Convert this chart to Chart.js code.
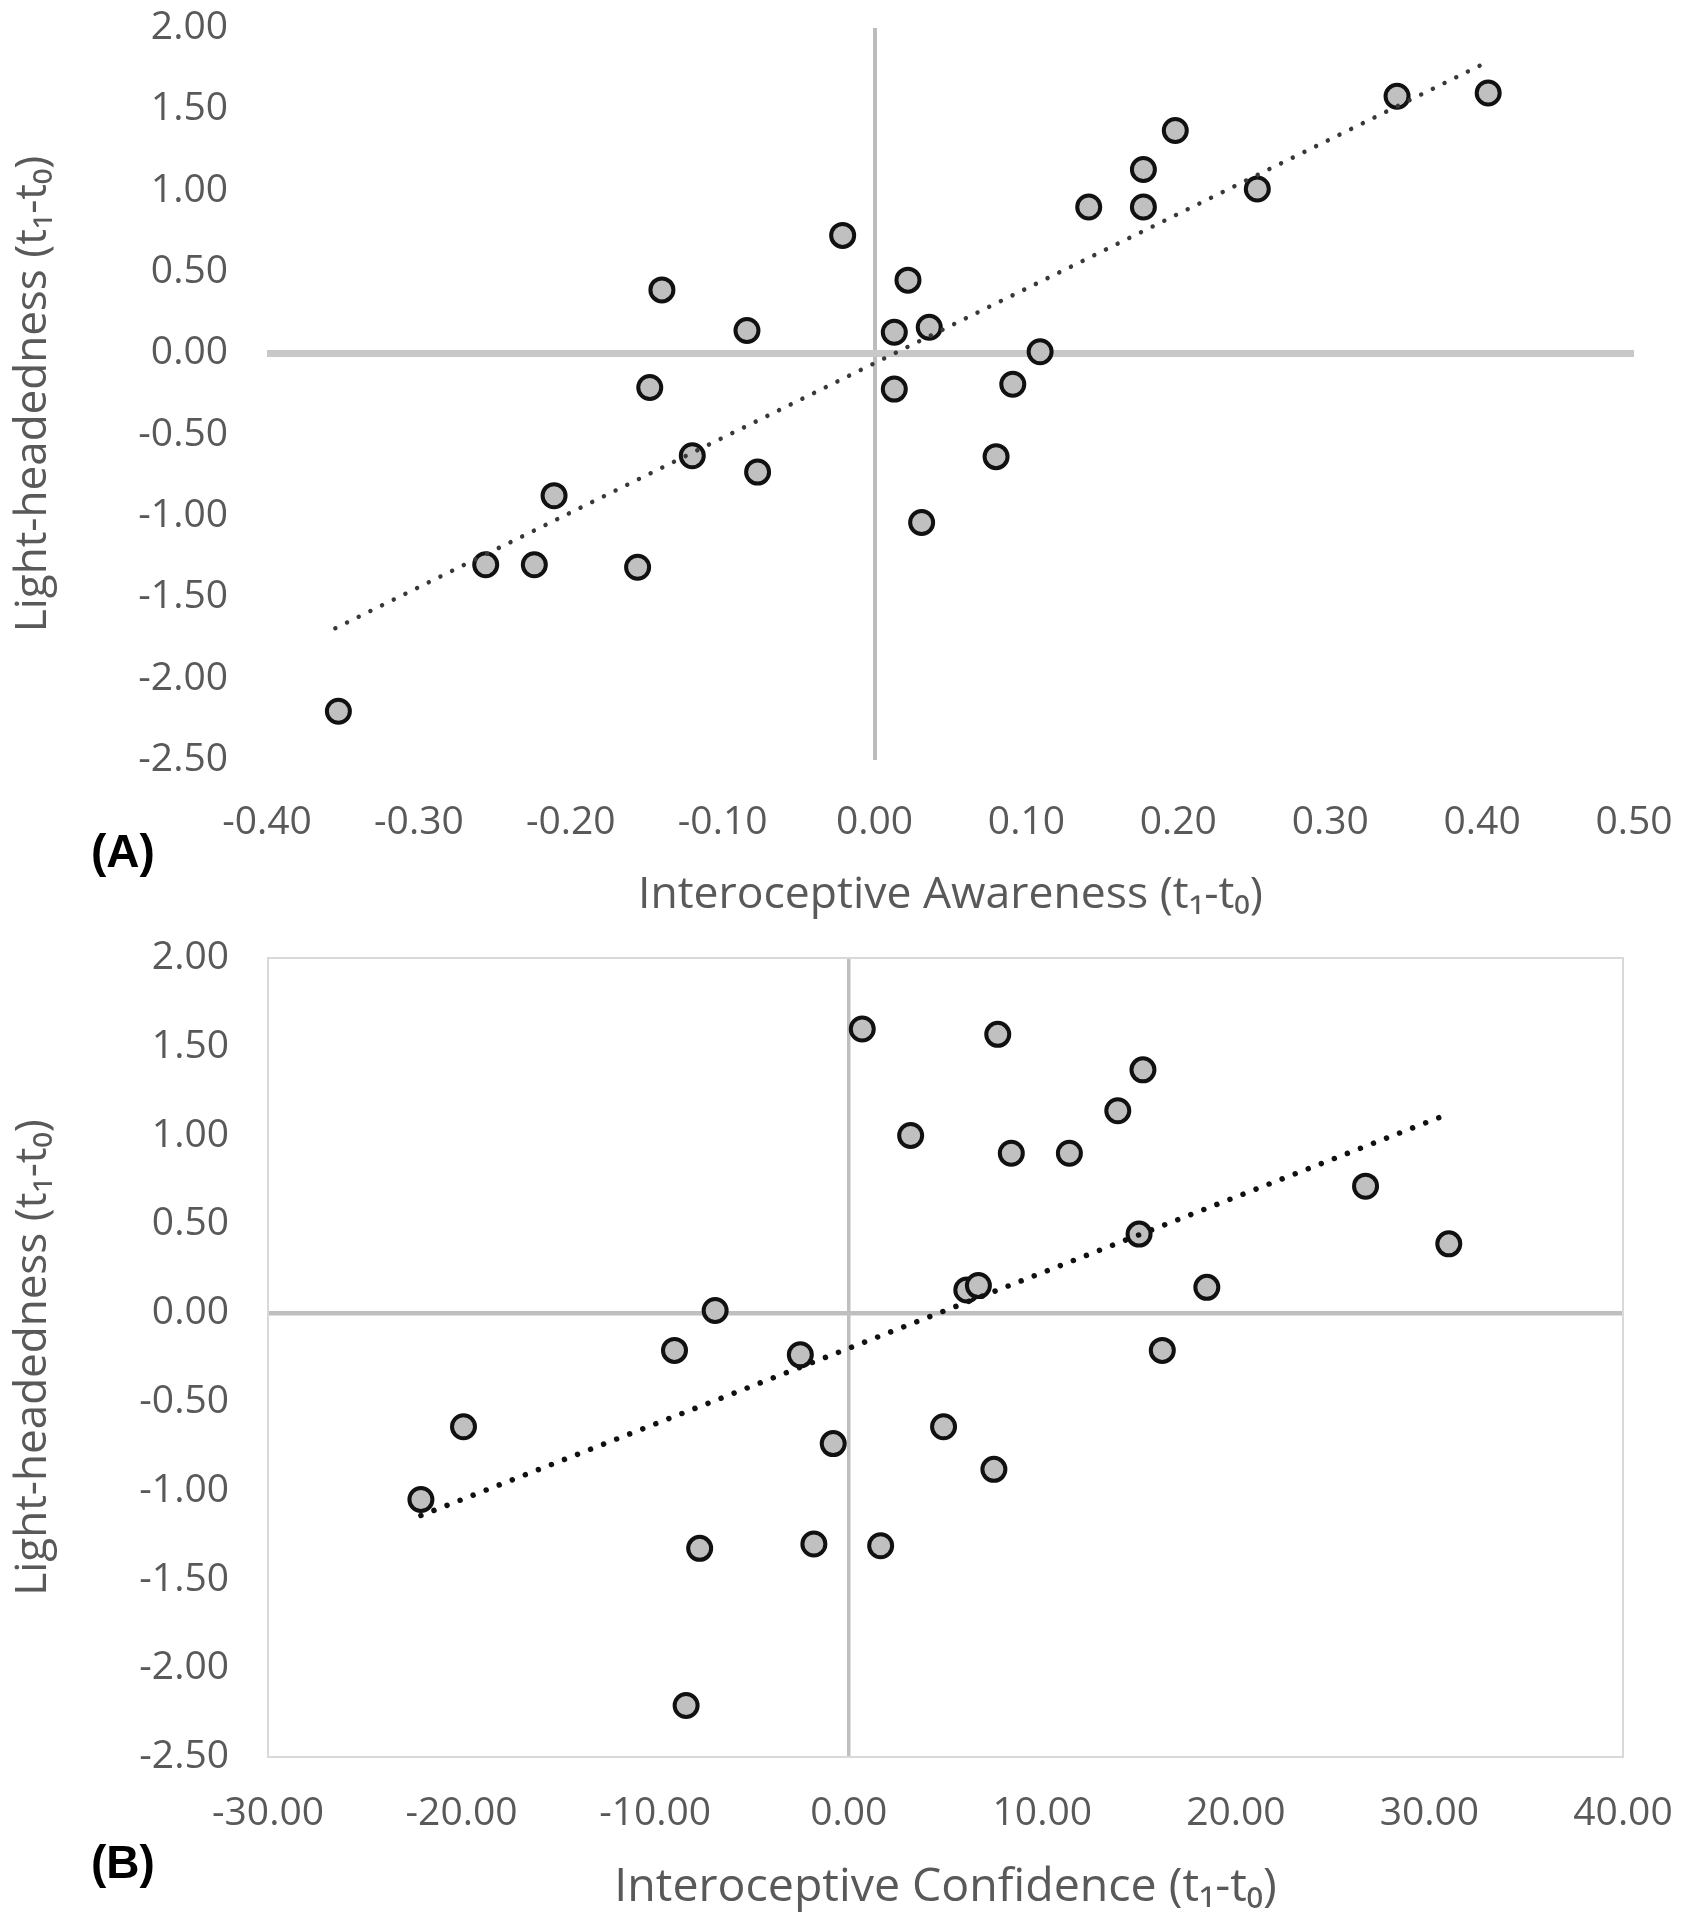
<!DOCTYPE html>
<html>
<head>
<meta charset="utf-8">
<script src="https://cdn.jsdelivr.net/npm/chart.js@4.4.1/dist/chart.umd.min.js"></script>
<style>
	body { margin: 0; background: #fff; width: 1682px; height: 1920px; position: relative; overflow: hidden; }
	canvas { position: absolute; left: 0; }
	#chartA { top: 0; }
	#chartB { top: 920px; }
	.panel { position: absolute; left: 91px; font-family: "Liberation Sans", Arial, sans-serif; font-weight: bold; font-size: 46px; line-height: 46px; color: #000; }
</style>
</head>
<body>
<canvas id="chartA" width="1682" height="930"></canvas>
<canvas id="chartB" width="1682" height="1000"></canvas>
<div class="panel" style="top:828px">(A)</div>
<div class="panel" style="top:1839px">(B)</div>
<script>
// panel A: change in interoceptive awareness vs light-headedness
const awarenessX = [-0.353, -0.256, -0.224, -0.211, -0.156, -0.120, -0.077, -0.148, -0.140, -0.084, -0.021, 0.022, 0.013,
	0.036, 0.013, 0.109, 0.091, 0.080, 0.031, 0.141, 0.177, 0.177, 0.198, 0.252, 0.344, 0.404];
const awarenessY = [-2.20, -1.30, -1.30, -0.875, -1.315, -0.63, -0.73, -0.21, 0.39, 0.14, 0.725, 0.45, 0.13,
	0.16, -0.22, 0.01, -0.19, -0.635, -1.04, 0.90, 0.90, 1.13, 1.37, 1.01, 1.58, 1.60];
// trendline endpoints as drawn in the figure
const awarenessTrendX = [-0.355, 0.401];
const awarenessTrendY = [-1.69, 1.78];

// panel B: change in interoceptive confidence vs light-headedness
const confidenceX = [0.7, 7.7, 15.2, 13.9, 3.2, 8.4, 11.4, 26.7, 15.0, 31.0, 6.1, 6.7, 18.5, -6.9, -9.0, -2.5,
	16.2, -19.9, 4.9, -0.8, 7.5, -22.1, -7.7, -1.8, 1.65, -8.4];
const confidenceY = [1.60, 1.57, 1.37, 1.14, 1.00, 0.90, 0.90, 0.715, 0.445, 0.39, 0.13, 0.155, 0.145, 0.015, -0.21, -0.235,
	-0.21, -0.64, -0.64, -0.735, -0.88, -1.05, -1.325, -1.30, -1.31, -2.21];
const confidenceTrendX = [-22.1, 30.7];
const confidenceTrendY = [-1.14, 1.11];

const yTicksMin = -2.5, yTicksMax = 2.0, yStep = 0.5;

const textColor = "#595959";
const fontFamily = "'Open Sans', 'DejaVu Sans', sans-serif";
const clear = "rgba(0,0,0,0)";

function toPoints(xs, ys) {
	return xs.map((x, i) => ({ x: x, y: ys[i] }));
}

function isZero(v) {
	return Math.abs(v) < 1e-9;
}

//draws a thin frame round the plot area (panel B only)
const plotBorder = {
	id: "plotBorder",
	beforeDatasetsDraw(chart, args, opts) {
		if (!opts.color) return;
		const a = chart.chartArea;
		const ctx = chart.ctx;
		ctx.save();
		ctx.strokeStyle = opts.color;
		ctx.lineWidth = opts.width;
		ctx.strokeRect(a.left, a.top, a.right - a.left, a.bottom - a.top);
		ctx.restore();
	}
};

function makeChart(id, cfg) {
	const ctx = document.getElementById(id).getContext("2d");
	new Chart(ctx, {
		type: "scatter",
		data: {
			datasets: [
				{
					data: toPoints(cfg.trendX, cfg.trendY),
					showLine: true,
					pointRadius: 0,
					borderColor: cfg.trendColor,
					borderWidth: cfg.trendWidth,
					borderDash: [0.01, cfg.trendGap],
					borderCapStyle: "round",
					fill: false,
				},
				{
					data: toPoints(cfg.xs, cfg.ys),
					pointRadius: 11.5,
					pointBorderWidth: 4,
					pointBackgroundColor: "#c0c0c0",
					pointBorderColor: "#111111",
					showLine: false,
				},
			],
		},
		options: {
			responsive: false,
			animation: false,
			layout: {
				padding: { left: 0, right: cfg.padRight, top: cfg.padTop, bottom: 0 },
			},
			plugins: {
				legend: { display: false },
				tooltip: { enabled: false },
				plotBorder: cfg.border || {},
			},
			scales: {
				x: {
					type: "linear",
					min: cfg.xMin,
					max: cfg.xMax,
					ticks: {
						stepSize: cfg.xStep,
						callback: (v) => v.toFixed(2),
						font: { family: fontFamily, size: 39 },
						color: textColor,
						padding: 0,
						maxRotation: 0,
						autoSkip: false,
					},
					grid: {
						drawTicks: true,
						tickLength: cfg.xTickPad,
						tickColor: clear,
						color: (c) => (isZero(c.tick.value) ? cfg.vLineColor : clear),
						lineWidth: (c) => (isZero(c.tick.value) ? cfg.vLineWidth : 0),
					},
					border: { display: false },
					title: {
						display: true,
						text: cfg.xTitle,
						font: { family: fontFamily, size: cfg.xTitleSize },
						color: textColor,
						padding: { top: 0, bottom: cfg.xTitlePad },
					},
					afterFit: (s) => {
						s.height = cfg.xHeight;
					},
				},
				y: {
					type: "linear",
					min: yTicksMin,
					max: yTicksMax,
					ticks: {
						stepSize: yStep,
						callback: (v) => v.toFixed(2),
						font: { family: fontFamily, size: 39 },
						color: textColor,
						padding: 0,
					},
					grid: {
						drawTicks: true,
						tickLength: 39,
						tickColor: clear,
						color: (c) => (isZero(c.tick.value) ? cfg.hLineColor : clear),
						lineWidth: (c) => (isZero(c.tick.value) ? cfg.hLineWidth : 0),
					},
					border: { display: false },
					title: {
						display: true,
						text: "Light-headedness (t\u2081-t\u2080)",
						font: { family: fontFamily, size: 44 },
						color: textColor,
						padding: { top: 7, bottom: 0 },
					},
					afterFit: (s) => {
						s.width = cfg.yWidth;
					},
				},
			},
		},
		plugins: [plotBorder],
	});
}

makeChart("chartA", {
	xs: awarenessX, ys: awarenessY,
	trendX: awarenessTrendX, trendY: awarenessTrendY,
	trendColor: "#383838", trendWidth: 4.5, trendGap: 13,
	xMin: -0.4, xMax: 0.5, xStep: 0.1,
	xTitle: "Interoceptive Awareness (t\u2081-t\u2080)", xTitleSize: 44.5,
	padTop: 28, padRight: 48, yWidth: 267, xHeight: 170,
	xTickPad: 39, xTitlePad: 8,
	hLineColor: "#c8c8c8", hLineWidth: 7,
	vLineColor: "#bdbdbd", vLineWidth: 4,
});

makeChart("chartB", {
	xs: confidenceX, ys: confidenceY,
	trendX: confidenceTrendX, trendY: confidenceTrendY,
	trendColor: "#111111", trendWidth: 5.5, trendGap: 14,
	xMin: -30, xMax: 40, xStep: 10,
	xTitle: "Interoceptive Confidence (t\u2081-t\u2080)", xTitleSize: 46.5,
	padTop: 38, padRight: 59, yWidth: 268, xHeight: 163,
	xTickPad: 33, xTitlePad: 4,
	hLineColor: "#bfbfbf", hLineWidth: 4.5,
	vLineColor: "#bfbfbf", vLineWidth: 3.5,
	border: { color: "#d9d9d9", width: 2 },
});
</script>
</body>
</html>
